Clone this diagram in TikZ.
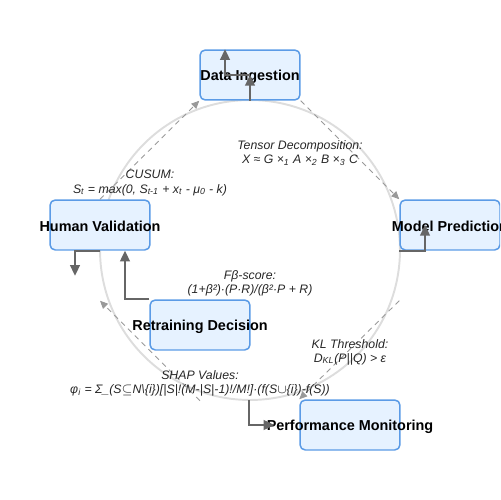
\documentclass[tikz,border=0pt]{standalone}
\usepackage{fontspec}
\setmainfont{Liberation Sans}
\usepackage{xcolor}
\usetikzlibrary{arrows.meta}
\tikzset{every picture/.style={line width=0.75pt}}
\definecolor{boxfill}{HTML}{E6F2FF}
\definecolor{boxline}{HTML}{5B9BE6}
\definecolor{ringgray}{HTML}{DDDDDD}
\definecolor{flowgray}{HTML}{666666}
\definecolor{dashgray}{HTML}{999999}

\begin{document}
\begin{tikzpicture}[x=0.02cm,y=-0.02cm,
  stage/.style={draw=boxline,fill=boxfill,line width=0.85pt,rounded corners=3pt,
    minimum width=2cm,minimum height=1cm,inner sep=0pt},
  stagetext/.style={font=\bfseries\fontsize{8.2}{10}\selectfont,yshift=-1pt},
  flow/.style={draw=flowgray,line width=1.1pt,-{Triangle[length=6pt,width=5.5pt]}},
  cue/.style={draw=dashgray,line width=0.5pt,dash pattern=on 3pt off 2.5pt,
    -{Triangle[length=4.5pt,width=4pt]}},
  formula/.style={align=center,text=black!85,font=\itshape\fontsize{7}{8}\selectfont}]
\clip (0,0) rectangle (500,500);
\draw[ringgray,line width=1.1pt] (250,250) circle [radius=3cm];
%
\node[stage,label={[stagetext]center:Data Ingestion}] (ingest) at (250,75) {};
\node[stage,label={[stagetext]center:Model Prediction}] (predict) at (450,225) {};
\node[stage,label={[stagetext]center:Performance Monitoring}] (monitor) at (350,425) {};
\node[stage,label={[stagetext]center:Retraining Decision}] (retrain) at (200,325) {};
\node[stage,label={[stagetext]center:Human Validation}] (validate) at (100,225) {};
%
\coordinate (predictout) at ([yshift=-1cm]predict.south west);
\coordinate (retrainout) at ([yshift=-1cm]retrain.south);
\coordinate (validatein) at ([yshift=-1cm]validate.south);
\coordinate (monitorin) at ([shift={(-1cm,0.5cm)}]monitor.west);
%
\foreach \Source/\Target in {%
	ingest.south east/predict.north west,
	predictout/monitor.north west,
	retrainout/validatein,
	validate.north/ingest.south west%
    }
\draw[cue] (\Source) to (\Target);
%
\draw[flow] (ingest.south) -- (ingest.center);
\draw[flow] (ingest.center) -| ([xshift=-0.5cm]ingest.north);
\draw[flow] (predict.south west) -| ([xshift=-0.5cm]predict.center);
\draw[flow] (validate.south) -| ([shift={(-0.5cm,-0.5cm)}]validate.south);
\draw[flow] (retrain.north west) -| ([xshift=0.5cm]validate.south);
\draw[flow] (monitorin) |- ([xshift=-0.5cm]monitor.west);
%
\node[formula] (tensor) at (300,153) {Tensor Decomposition:\\X ≈ G ×\textsubscript{1} A ×\textsubscript{2} B ×\textsubscript{3} C};
\node[formula] (cusum) at (150,183) {CUSUM:\\S\textsubscript{t} = max(0, S\textsubscript{t-1} + x\textsubscript{t} - μ\textsubscript{0} - k)};
\node[formula] (fbeta) at (250,283) {Fβ-score:\\(1+β²)·(P·R)/(β²·P + R)};
\node[formula] (kl) at (350,352) {KL Threshold:\\D\textsubscript{KL}(P||Q) > ε};
\node[formula] (shap) at (200,383) {SHAP Values:\\φ\textsubscript{i} = Σ\_(S$\subseteq$N\textbackslash\{i\})[|S|!(M-|S|-1)!/M!]·(f(S$\cup$\{i\})-f(S))};
\end{tikzpicture}
\end{document}
